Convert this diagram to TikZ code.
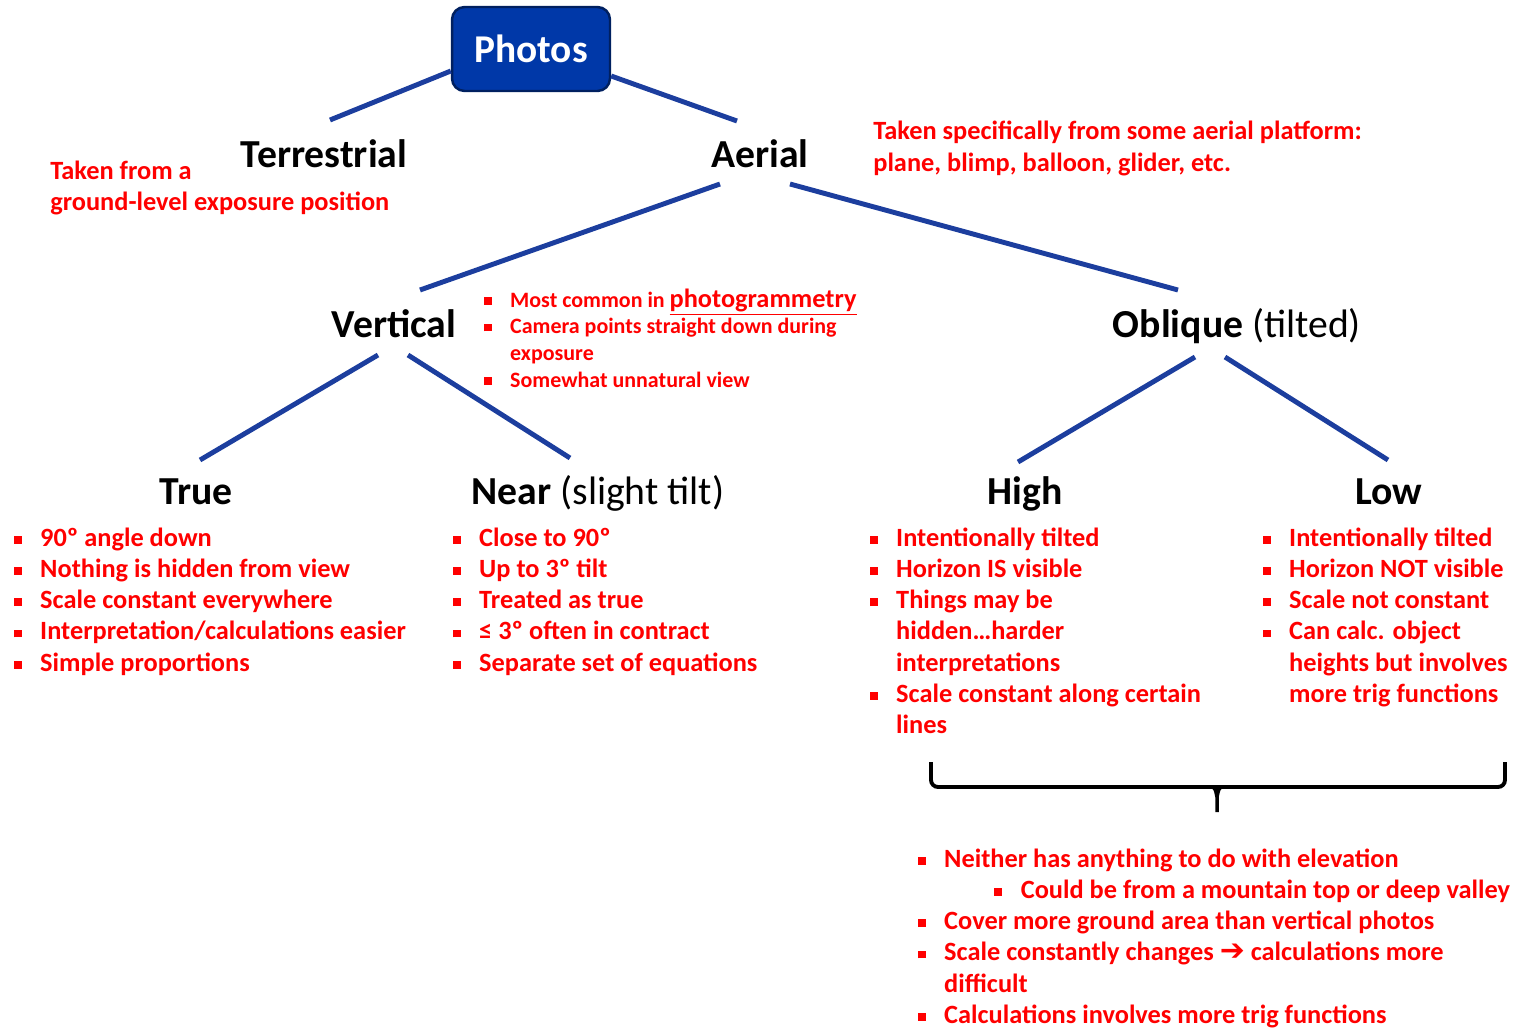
\documentclass[tikz,border=0pt]{standalone}
\usepackage{fontspec}
\setmainfont{Carlito}
\newfontfamily\arrowfont{DejaVu Sans}
\usetikzlibrary{calc}
\definecolor{PhotoBlue}{RGB}{0,56,168}
\definecolor{PhotoNavy}{RGB}{0,32,96}
\definecolor{BranchBlue}{RGB}{28,62,158}
\definecolor{NoteRed}{RGB}{255,0,0}
\newcommand{\sqbullet}{\makebox[15.3pt][l]{\hspace{0.3pt}\raisebox{1.4pt}{\rule{4.4pt}{4.4pt}}}}
\tikzset{
  photobox/.style={draw=PhotoNavy,fill=PhotoBlue,line width=1.4pt,rounded corners=0.25cm,
    minimum width=3.16cm,minimum height=1.68cm,text=white,
    font=\bfseries\fontsize{22.4}{24}\selectfont},
  heading/.style={anchor=base,inner sep=0pt,font=\bfseries\fontsize{22.6}{26}\selectfont},
  note/.style={anchor=base west,inner sep=0pt,text=NoteRed,
    font=\bfseries\fontsize{15}{17.8}\selectfont},
  widenote/.style={note,font=\bfseries\fontsize{15}{18.4}\selectfont},
  smallnote/.style={note,font=\bfseries\fontsize{12.5}{15.3}\selectfont},
  branch/.style={BranchBlue,line width=2.8pt},
  brace/.style={black,line width=2.2pt,rounded corners=4pt}
}

\begin{document}
\begin{tikzpicture}[x=0.02cm,y=-0.02cm]
  \useasboundingbox (0,0) rectangle (1518,1029);

  % Level 1: root and the two kinds of photos
  \node[photobox] (photos) at (531,49) {Photos};
  \node[heading] (terrestrial) at (324,167) {Terrestrial};
  \node[heading] (aerial) at (760,167) {Aerial};
  \draw[branch] ($(photos.west)+(0,22)$) -- ($(terrestrial.base)+(6,-47)$);
  \draw[branch] ($(photos.east)+(0,27)$) -- ($(aerial.base)+(-23,-46)$);

  \node[note] (terrnote) at (50,179) {\begin{tabular}[t]{@{}l@{}}
    Taken from a\\
    ground-level exposure position
  \end{tabular}};
  \node[widenote] (aerialnote) at (873,139) {\begin{tabular}[t]{@{}l@{}}
    Taken specifically from some aerial platform:\\
    plane, blimp, balloon, glider, etc.
  \end{tabular}};

  % Level 2: vertical vs oblique
  \node[heading] (vertical) at (394,337) {Vertical};
  \node[heading] (oblique) at (1237,337) {Oblique \mdseries(tilted)};
  \draw[branch] ($(aerial.base)+(-40,17)$) -- ($(vertical.base)+(26,-47)$);
  \draw[branch] ($(aerial.base)+(30,17)$) -- ($(oblique.base)+(-59,-47)$);

  \node[smallnote] (vertnote) at (483,307) {\begin{tabular}[t]{@{}l@{}l@{}}
    \sqbullet & Most common in {\fontsize{15}{15.3}\selectfont\underline{photogrammetry}}\\
    \sqbullet & Camera points straight down during\\
              & exposure\\
    \sqbullet & Somewhat unnatural view
  \end{tabular}};

  % Level 3: the four sub-types
  \node[heading] (true) at (196,504) {True};
  \node[heading] (near) at (598,504) {Near \mdseries(slight tilt)};
  \node[heading] (high) at (1025,504) {High};
  \node[heading] (low) at (1389,504) {Low};
  \draw[branch] ($(vertical.base)+(-16,18)$) -- ($(true.base)+(4,-44)$);
  \draw[branch] ($(vertical.base)+(14,18)$) -- ($(near.base)+(-28,-46)$);
  \draw[branch] ($(oblique.base)+(-42,20)$) -- ($(high.base)+(-7,-42)$);
  \draw[branch] ($(oblique.base)+(-12,20)$) -- ($(low.base)+(-1,-44)$);

  \node[note] (truenote) at (13,546) {\begin{tabular}[t]{@{}l@{}l@{}}
    \sqbullet & 90º angle down\\
    \sqbullet & Nothing is hidden from view\\
    \sqbullet & Scale constant everywhere\\
    \sqbullet & Interpretation/calculations easier\\
    \sqbullet & Simple proportions
  \end{tabular}};
  \node[note] (nearnote) at (452,546) {\begin{tabular}[t]{@{}l@{}l@{}}
    \sqbullet & Close to 90º\\
    \sqbullet & Up to 3º tilt\\
    \sqbullet & Treated as true\\
    \sqbullet & ≤ 3º often in contract\\
    \sqbullet & Separate set of equations
  \end{tabular}};
  \node[note] (highnote) at (869,546) {\begin{tabular}[t]{@{}l@{}l@{}}
    \sqbullet & Intentionally tilted\\
    \sqbullet & Horizon IS visible\\
    \sqbullet & Things may be\\
              & hidden…harder\\
              & interpretations\\
    \sqbullet & Scale constant along certain\\
              & lines
  \end{tabular}};
  \node[note] (lownote) at (1262,546) {\begin{tabular}[t]{@{}l@{}l@{}}
    \sqbullet & Intentionally tilted\\
    \sqbullet & Horizon NOT visible\\
    \sqbullet & Scale not constant\\
    \sqbullet & Can calc. object\\
              & heights but involves\\
              & more trig functions
  \end{tabular}};

  % Brace over high and low, with the shared notes
  \draw[brace] (931,762) -- (931,787) -- (1505,787) -- (1505,762);
  \draw[black,line width=2pt] (1209,787) .. controls (1215,787) .. (1217,797) -- (1217,812);
  \draw[black,line width=2pt] (1225,787) .. controls (1219,787) .. (1217,797);
  \node[note] (bothnote) at (917,867) {\begin{tabular}[t]{@{}l@{}l@{}}
    \sqbullet & Neither has anything to do with elevation\\
              & \hspace{28.3pt}\sqbullet Could be from a mountain top or deep valley\\
    \sqbullet & Cover more ground area than vertical photos\\
    \sqbullet & Scale constantly changes {\arrowfont\fontsize{17}{17.8}\selectfont ➔} calculations more\\
              & difficult\\
    \sqbullet & Calculations involves more trig functions
  \end{tabular}};
\end{tikzpicture}
\end{document}
